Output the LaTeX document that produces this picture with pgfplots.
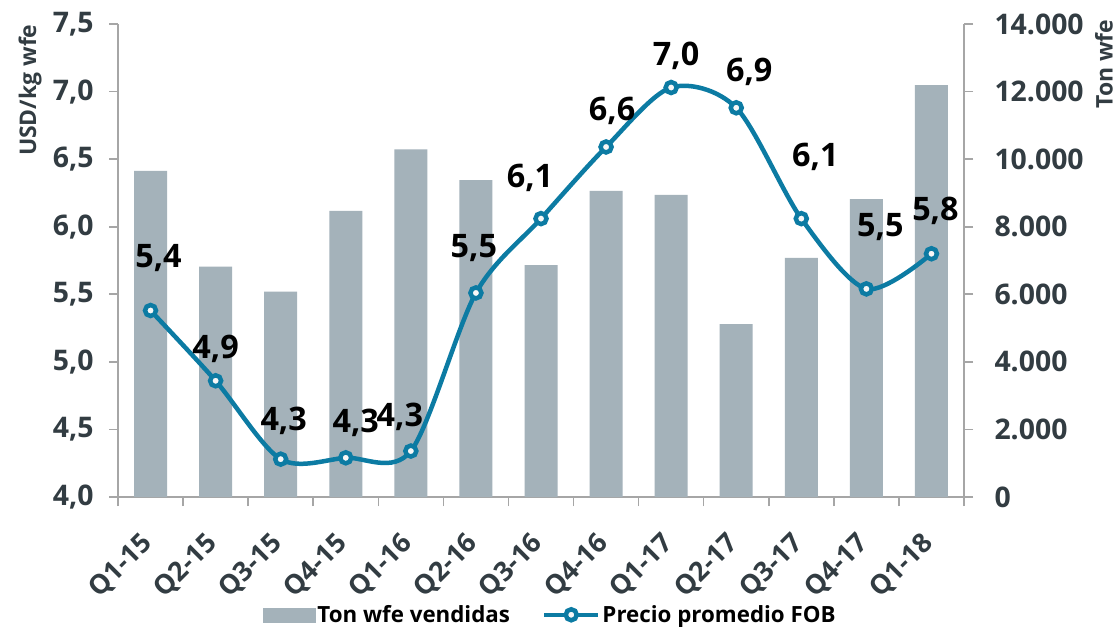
\documentclass[border=0pt]{standalone}
\usepackage{fontspec}
\setmainfont{Open Sans}
\usepackage{pgfplots}
\usepackage{pgfplotstable}
\pgfplotsset{compat=1.18}
\definecolor{barc}{RGB}{164,178,186}
\definecolor{linec}{RGB}{12,123,163}
\definecolor{tickc}{RGB}{50,60,66}
\definecolor{axc}{RGB}{166,166,166}
\pgfplotsset{linelegend/.style={legend image code/.code={\draw[mark repeat=2,mark phase=2,##1] plot coordinates {(0bp,0bp)(27bp,0bp)(54bp,0bp)};}}}
\pgfplotstableread{
x ton
0 9650
1 6820
2 6080
3 8470
4 10290
5 9380
6 6860
7 9060
8 8940
9 5120
10 7080
11 8820
12 12190
}\bars
\pgfplotstableread{
x price
0 5.38
1 4.86
2 4.28
3 4.29
4 4.34
5 5.51
6 6.06
7 6.59
8 7.03
9 6.88
10 6.06
11 5.54
12 5.80
}\price
% label positions (centre of each data label)
\pgfplotstableread{
x y lab
0.123 5.765 5,4
1.000 5.097 4,9
2.046 4.561 4,3
3.154 4.549 4,3
3.831 4.592 4,3
4.969 5.843 5,5
5.831 6.363 6,1
7.092 6.856 6,6
8.077 7.267 7,0
9.200 7.146 6,9
10.215 6.519 6,1
11.215 5.999 5,5
12.061 6.118 5,8
}\labels
\newcommand\tickfont{\fontsize{28.5}{34}\selectfont\bfseries}
\newcommand\xtickfont{\fontsize{27}{32}\selectfont\bfseries}
\newcommand\labfont{\fontsize{32.5}{39}\selectfont\bfseries}
\newcommand\legfont{\fontsize{22.4}{27}\selectfont\bfseries}
\newcommand\titfont{\fontsize{23}{28}\selectfont\bfseries}
\begin{document}
\begin{tikzpicture}
\path[use as bounding box, fill=white] (-118bp,-130bp) rectangle (1001bp,497bp);
\pgfplotsset{common/.style={scale only axis, width=846bp, height=473bp,
  xmin=-0.5, xmax=12.5,
  axis line style={axc, line width=1.6bp},
  tick style={axc, line width=1.6bp},
  major tick length=9bp, tick align=outside,
  tick label style={font=\tickfont, text=tickc, /pgf/number format/assume math mode=true}}}
\begin{axis}[common, ymin=0, ymax=14000,
  axis y line*=right, axis x line*=bottom,
  ybar, bar width=33bp,
  ytick={0,2000,...,14000}, scaled y ticks=false,
  yticklabel shift=18bp,
  yticklabel style={/pgf/number format/.cd, 1000 sep={.}},
  xtick={-0.5,0.5,...,12.5}, x tick label as interval,
  xticklabels={Q1-15,Q2-15,Q3-15,Q4-15,Q1-16,Q2-16,Q3-16,Q4-16,Q1-17,Q2-17,Q3-17,Q4-17,Q1-18},
  xticklabel shift=31bp,
  xticklabel style={rotate=45, anchor=east, font=\xtickfont},
  ylabel={Ton wfe},
  ylabel style={at={(axis description cs:1.1655,0.915)}, anchor=center, font=\titfont, text=tickc},
]
\addplot[fill=barc, draw=none] table[x=x,y=ton]{\bars};
\end{axis}
\begin{axis}[common, ymin=4, ymax=7.5,
  axis y line*=left, axis x line=none, clip=false,
  ytick={4,4.5,...,7.5},
  yticklabel={\pgfmathprintnumber[fixed,fixed zerofill,precision=1,use comma]{\tick}\hspace*{12bp}},
  ylabel={USD/kg wfe},
  ylabel style={at={(axis description cs:-0.104,0.86)}, anchor=center, font=\titfont, text=tickc},
  legend style={at={(axis description cs:0.511,-0.249)}, anchor=center, draw=none, fill=none,
    legend columns=2, font=\legfont, text=black,
    /tikz/every even column/.append style={column sep=30bp}},
  legend cell align=left,
]
\addlegendimage{legend image code/.code={\fill[barc] (0bp,-7bp) rectangle (52bp,7bp);}}
\addlegendentry{Ton wfe vendidas}
\addplot[linec, line width=4.5bp, smooth, mark=*, mark size=5.5bp,
  mark options={fill=white!94!gray, draw=linec, line width=4.5bp}, linelegend]
  table[x=x,y=price]{\price};
\addlegendentry{Precio promedio FOB}
\addplot[draw=none, mark=none, forget plot,
  nodes near coords, point meta=explicit symbolic,
  nodes near coords style={anchor=center, font=\labfont, text=black}]
  table[x=x,y=y,meta=lab]{\labels};
\end{axis}
\end{tikzpicture}
\end{document}
